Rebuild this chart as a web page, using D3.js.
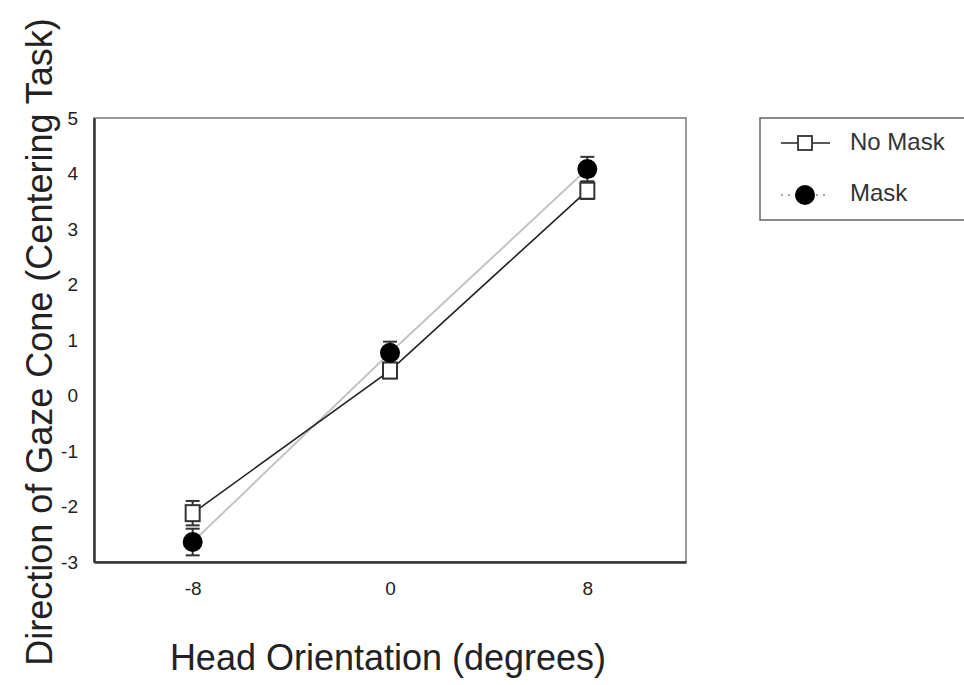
<!DOCTYPE html>
<html>
<head>
<meta charset="utf-8">
<script src="https://cdn.jsdelivr.net/npm/d3@7"></script>
<style>
  body { margin: 0; background: #fff; }
  text { font-family: "Liberation Sans", Arial, sans-serif; }
</style>
</head>
<body>
<svg id="chart" width="964" height="685"></svg>
<script>
// data
const headOrientation = [-8, 0, 8];
const noMaskMean = [-2.12, 0.45, 3.69];
const noMaskErr = [0.22, 0.14, 0.15];
const maskMean = [-2.64, 0.77, 4.08];
const maskErr = [0.24, 0.2, 0.22];
const yTicks = [-3, -2, -1, 0, 1, 2, 3, 4, 5];
const xTicks = [-8, 0, 8];

const svg = d3.select("#chart");
const plotLeft = 94, plotRight = 686, plotTop = 118, plotBottom = 562; // plot frame

const x = d3.scaleLinear().domain([-12, 12]).range([plotLeft, plotRight]);
const y = d3.scaleLinear().domain([-3, 5]).range([plotBottom, plotTop]);

// frame
svg.append("rect")
  .attr("x", plotLeft).attr("y", plotTop)
  .attr("width", plotRight - plotLeft).attr("height", plotBottom - plotTop)
  .attr("fill", "none").attr("stroke", "#777").attr("stroke-width", 1.5);

// y axis + x axis (no tick marks, plain hyphen for minus)
const fmt = d => String(d);
const yAxis = svg.append("g")
  .attr("transform", "translate(" + plotLeft + ",0)")
  .call(d3.axisLeft(y).tickValues(yTicks).tickFormat(fmt).tickSize(0).tickPadding(16));
const xAxis = svg.append("g")
  .attr("transform", "translate(0," + plotBottom + ")")
  .call(d3.axisBottom(x).tickValues(xTicks).tickFormat(fmt).tickSize(0).tickPadding(20));
[yAxis, xAxis].forEach(function (a) {
  a.attr("font-size", null).attr("font-family", null);
  a.select(".domain").attr("stroke", "#333").attr("stroke-width", 2.5);
  a.selectAll("text")
    .style("font-size", "19px")
    .style("fill", "#222");
});

// axis titles
svg.append("text")
  .attr("transform", "translate(52,342) rotate(-90)")
  .attr("text-anchor", "middle")
  .style("font-size", "36px")
  .attr("fill", "#222")
  .text("Direction of Gaze Cone (Centering Task)");
svg.append("text")
  .attr("x", 388).attr("y", 670)
  .attr("text-anchor", "middle")
  .style("font-size", "36px")
  .attr("fill", "#222")
  .text("Head Orientation (degrees)");

const noMask = headOrientation.map((h, i) => ({ h: h, m: noMaskMean[i], e: noMaskErr[i] }));
const mask = headOrientation.map((h, i) => ({ h: h, m: maskMean[i], e: maskErr[i] }));

const line = d3.line().x(d => x(d.h)).y(d => y(d.m));

svg.append("path").datum(mask)
  .attr("d", line).attr("fill", "none")
  .attr("stroke", "#c4c4c4").attr("stroke-width", 2);
svg.append("path").datum(noMask)
  .attr("d", line).attr("fill", "none")
  .attr("stroke", "#222").attr("stroke-width", 1.6);

function errorBars(data) {
  const g = svg.append("g").attr("stroke", "#333").attr("stroke-width", 2);
  data.forEach(function (d) {
    const cx = x(d.h);
    g.append("line").attr("x1", cx).attr("x2", cx)
      .attr("y1", y(d.m - d.e)).attr("y2", y(d.m + d.e));
    [d.m - d.e, d.m + d.e].forEach(function (v) {
      g.append("line").attr("x1", cx - 7).attr("x2", cx + 7)
        .attr("y1", y(v)).attr("y2", y(v));
    });
  });
}
errorBars(noMask);
errorBars(mask);

// markers
svg.selectAll(".sq").data(noMask).enter().append("rect")
  .attr("x", d => x(d.h) - 7).attr("y", d => y(d.m) - 8)
  .attr("width", 14).attr("height", 16)
  .attr("fill", "#fff").attr("stroke", "#333").attr("stroke-width", 2);
svg.selectAll(".dot").data(mask).enter().append("circle")
  .attr("cx", d => x(d.h)).attr("cy", d => y(d.m))
  .attr("r", 10).attr("fill", "#000");

// legend
const lg = svg.append("g");
lg.append("rect")
  .attr("x", 760).attr("y", 118).attr("width", 215).attr("height", 102)
  .attr("fill", "#fff").attr("stroke", "#666").attr("stroke-width", 1.5);
lg.append("line").attr("x1", 781).attr("x2", 830).attr("y1", 143).attr("y2", 143)
  .attr("stroke", "#222").attr("stroke-width", 1.5);
lg.append("rect").attr("x", 798).attr("y", 136).attr("width", 14).attr("height", 14)
  .attr("fill", "#fff").attr("stroke", "#333").attr("stroke-width", 1.8);
lg.append("line").attr("x1", 781).attr("x2", 830).attr("y1", 195).attr("y2", 195)
  .attr("stroke", "#888").attr("stroke-width", 1.5).attr("stroke-dasharray", "2,5");
lg.append("circle").attr("cx", 805).attr("cy", 195).attr("r", 10).attr("fill", "#000");
lg.append("text").attr("x", 850).attr("y", 150).style("font-size", "24px").attr("fill", "#333").text("No Mask");
lg.append("text").attr("x", 850).attr("y", 201).style("font-size", "24px").attr("fill", "#333").text("Mask");
</script>
</body>
</html>
